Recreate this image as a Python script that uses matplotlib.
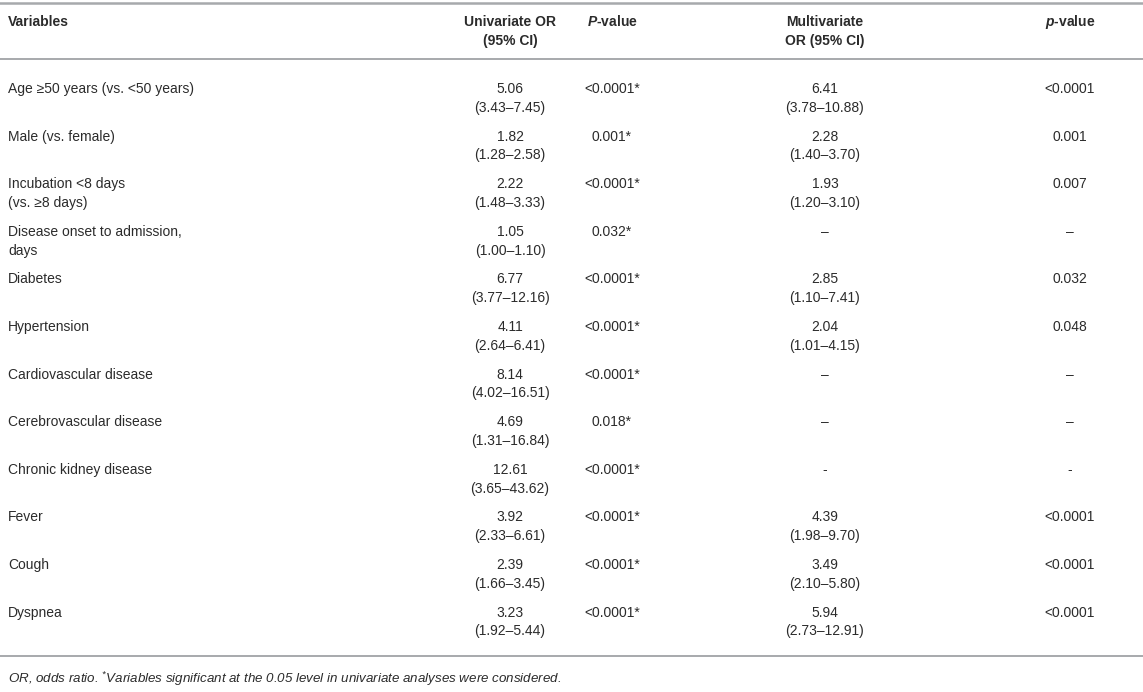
import matplotlib
matplotlib.use("Agg")
import matplotlib.pyplot as plt

plt.rcParams['font.family'] = ['Liberation Sans', 'DejaVu Sans']
plt.rcParams['mathtext.fontset'] = 'custom'
plt.rcParams['mathtext.it'] = 'Liberation Sans:bold:italic'
plt.rcParams['mathtext.rm'] = 'Liberation Sans'
plt.rcParams['mathtext.default'] = 'regular'

# table content
headers = ["Variables", "Univariate OR\n(95% CI)", "$\\mathit{P}$-value",
           "Multivariate\nOR (95% CI)", "$\\mathit{p}$-value"]
variables = ["Age \u226550 years (vs. <50 years)", "Male (vs. female)",
             "Incubation <8 days\n(vs. \u22658 days)", "Disease onset to admission,\ndays",
             "Diabetes", "Hypertension", "Cardiovascular disease", "Cerebrovascular disease",
             "Chronic kidney disease", "Fever", "Cough", "Dyspnea"]
uni_or = ["5.06", "1.82", "2.22", "1.05", "6.77", "4.11", "8.14", "4.69", "12.61",
          "3.92", "2.39", "3.23"]
uni_ci = ["3.43\u20137.45", "1.28\u20132.58", "1.48\u20133.33", "1.00\u20131.10",
          "3.77\u201312.16", "2.64\u20136.41", "4.02\u201316.51", "1.31\u201316.84",
          "3.65\u201343.62", "2.33\u20136.61", "1.66\u20133.45", "1.92\u20135.44"]
uni_p = ["<0.0001*", "0.001*", "<0.0001*", "0.032*", "<0.0001*", "<0.0001*", "<0.0001*",
         "0.018*", "<0.0001*", "<0.0001*", "<0.0001*", "<0.0001*"]
multi_or = ["6.41", "2.28", "1.93", "\u2013", "2.85", "2.04", "\u2013", "\u2013", "-",
            "4.39", "3.49", "5.94"]
multi_ci = ["3.78\u201310.88", "1.40\u20133.70", "1.20\u20133.10", None, "1.10\u20137.41",
            "1.01\u20134.15", None, None, None, "1.98\u20139.70", "2.10\u20135.80",
            "2.73\u201312.91"]
multi_p = ["<0.0001", "0.001", "0.007", "\u2013", "0.032", "0.048", "\u2013", "\u2013", "-",
           "<0.0001", "<0.0001", "<0.0001"]
footnote = "OR, odds ratio. $^{*}$Variables significant at the 0.05 level in univariate analyses were considered."

W, H = 1143, 692
fig = plt.figure(figsize=(W / 100, H / 100), dpi=100)
ax = fig.add_axes([0, 0, 1, 1])
ax.set_xlim(0, W)
ax.set_ylim(H, 0)
ax.axis('off')

txt = '#2b2b2b'
rule = '#a7a9ac'
fs = 10.0
col_x = [8, 510, 612, 825, 1070]
col_ha = ['left', 'center', 'center', 'center', 'center']
y0, pitch, gap = 89, 47.6, 18.8

def lines(x, y, s, ha, size=fs, **kw):
    for k, part in enumerate(s.split('\n')):
        ax.text(x, y + k * gap, part, ha=ha, va='center', color=txt, fontsize=size, **kw)

# rules
ax.axhline(3, color=rule, lw=1.8)
ax.axhline(59, color=rule, lw=1.4)
ax.axhline(656, color=rule, lw=1.4)

for x, ha, h in zip(col_x, col_ha, headers):
    lines(x, 22, h, ha, size=10.0, fontweight='bold')

for i in range(len(variables)):
    y = y0 + i * pitch
    lines(col_x[0], y, variables[i], 'left')
    lines(col_x[1], y, uni_or[i] + "\n(" + uni_ci[i] + ")", 'center')
    lines(col_x[2], y, uni_p[i], 'center')
    mo = multi_or[i] if multi_ci[i] is None else multi_or[i] + "\n(" + multi_ci[i] + ")"
    lines(col_x[3], y, mo, 'center')
    lines(col_x[4], y, multi_p[i], 'center')

ax.text(8, 679, footnote, ha='left', va='center', color=txt, fontsize=9.6, fontstyle='italic')

fig.savefig('out.png', dpi=100)
